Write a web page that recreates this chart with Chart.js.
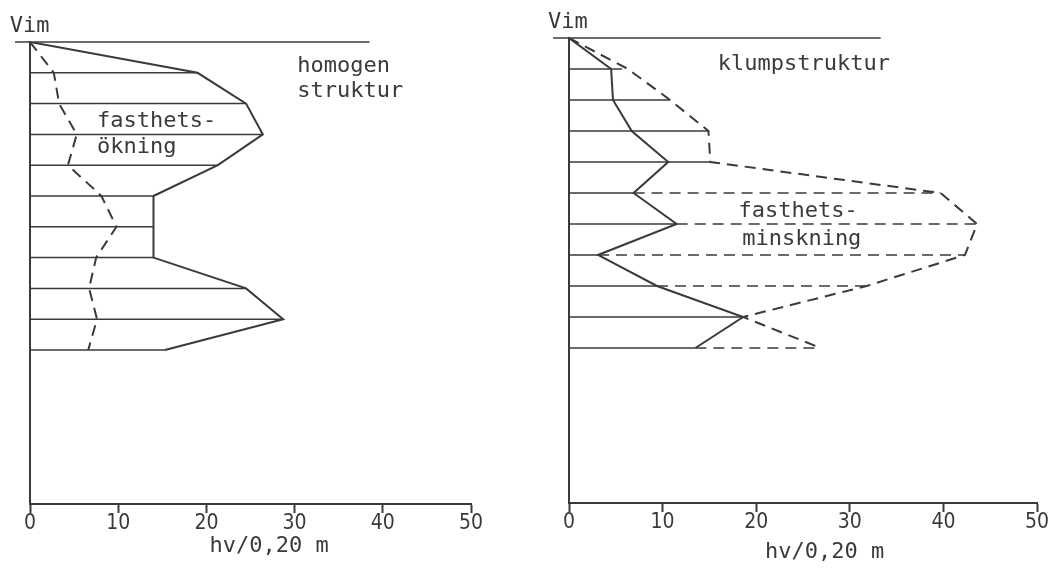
<!DOCTYPE html>
<html><head><meta charset="utf-8">
<script src="https://cdn.jsdelivr.net/npm/chart.js@4.4.0/dist/chart.umd.min.js"></script>
<style>
html,body{margin:0;padding:0;background:#fff;}
#wrap{position:relative;width:1064px;height:572px;overflow:hidden;}
canvas{position:absolute;top:0;}
#c1{left:0}
#c2{left:532px}
</style></head><body>
<div id="wrap"><canvas id="c1" width="532" height="572"></canvas><canvas id="c2" width="532" height="572"></canvas></div>
<script>
// ---- data (depth levels in m, values in hv/0,20 m) ----
const depths = [0, 0.2, 0.4, 0.6, 0.8, 1.0, 1.2, 1.4, 1.6, 1.8, 2.0];
const xTicks = [0, 10, 20, 30, 40, 50];
// left panel: homogen struktur
const leftSolid  = [0, 19.0, 24.5, 26.4, 21.3, 14.0, 14.0, 14.0, 24.5, 28.7, 15.3];
const leftDashed = [0, 2.7, 3.3, 5.3, 4.3, 8.1, 9.8, 7.5, 6.7, 7.6, 6.6];
// right panel: klumpstruktur
const rightSolid  = [0, 4.5, 4.7, 6.7, 10.6, 6.9, 11.5, 3.1, 9.4, 18.6, 13.5];
const rightDashed = [0, 6.3, 10.8, 14.9, 15.1, 39.7, 43.6, 42.3, 31.8, 18.6, 26.9];
const rightBarSolid = [0, 4.5, 10.8, 14.9, 15.1, 6.9, 11.5, 3.1, 9.4, 18.6, 13.5];
const leftTopLine = [-1.7, 38.5];
const rightTopLine = [-1.7, 33.3];
const xTitle = 'hv/0,20 m';
const depthLabel = 'Vim';
const leftNotes = ['homogen', 'struktur', 'fasthets-', 'ökning'];
const rightNotes = ['klumpstruktur', 'fasthets-', 'minskning'];

const INK = '#3a3a3a';
const DASH = [11, 7];
const TXT = '22px "DejaVu Sans Mono", monospace';

function profile(vals, dashed, w) {
  return { data: depths.map((d, i) => ({ x: vals[i], y: d })), borderColor: INK, borderWidth: w,
    borderDash: dashed ? DASH : [], pointRadius: 0, showLine: true, fill: false, tension: 0 };
}
function seg(x0, x1, d, dashed, w, noclip) {
  const o = { data: [{ x: x0, y: d }, { x: x1, y: d }], borderColor: INK, borderWidth: w,
    borderDash: dashed ? DASH : [], pointRadius: 0, showLine: true, fill: false };
  if (noclip) o.clip = false;
  return o;
}

const textPlugin = {
  id: 'textLabels',
  afterDraw(chart, args, opts) {
    const { ctx } = chart; const sx = chart.scales.x, sy = chart.scales.y;
    ctx.save(); ctx.fillStyle = INK; ctx.font = TXT; ctx.textBaseline = 'alphabetic';
    for (const it of opts.items) {
      ctx.textAlign = it.align || 'left';
      ctx.fillText(it.text, sx.getPixelForValue(it.x), sy.getPixelForValue(it.y));
    }
    ctx.restore();
  }
};

function makeChart(id, datasets, items, pad) {
  return new Chart(document.getElementById(id), {
    type: 'scatter',
    data: { datasets },
    options: {
      responsive: false, animation: false, devicePixelRatio: 1,
      layout: { padding: pad },
      plugins: { legend: { display: false }, tooltip: { enabled: false }, textLabels: { items } },
      scales: {
        x: {
          type: 'linear', min: 0, max: 50, position: 'bottom',
          afterBuildTicks: s => { s.ticks = xTicks.map(v => ({ value: v })); },
          ticks: { font: { family: '"DejaVu Sans Condensed", "Liberation Sans Narrow", "DejaVu Sans"', size: 21 },
                   color: INK, padding: -2, maxRotation: 0, autoSkip: false },
          grid: { display: true, drawOnChartArea: false, drawTicks: true, tickLength: 9, tickWidth: 2, tickColor: INK },
          border: { display: true, color: INK, width: 2 },
          afterFit: s => { s.height = 40; }
        },
        y: {
          type: 'linear', min: 0, max: 3, reverse: true,
          ticks: { display: false }, grid: { display: false },
          border: { display: true, color: INK, width: 2 },
          afterFit: s => { s.width = 0; }
        }
      }
    },
    plugins: [textPlugin]
  });
}

// left
const lds = [];
lds.push(seg(leftTopLine[0], leftTopLine[1], 0, false, 1.5, true));
for (let i = 1; i < depths.length; i++) lds.push(seg(0, leftSolid[i], depths[i], false, 1.5));
lds.push(profile(leftSolid, false, 2));
lds.push(profile(leftDashed, true, 2));
makeChart('c1', lds, [
  { text: depthLabel, x: -2.3, y: -0.065 },
  { text: leftNotes[0], x: 30.3, y: 0.195 },
  { text: leftNotes[1], x: 30.3, y: 0.357 },
  { text: leftNotes[2], x: 7.6, y: 0.552 },
  { text: leftNotes[3], x: 7.6, y: 0.721 },
  { text: xTitle, x: 27.1, y: 3.31, align: 'center' }
], { left: 30, right: 61, top: 42, bottom: 28 });

// right
const rds = [];
rds.push(seg(rightTopLine[0], rightTopLine[1], 0, false, 1.5, true));
for (let i = 1; i < depths.length; i++) {
  rds.push(seg(0, rightBarSolid[i], depths[i], false, 1.5));
  if (rightDashed[i] > rightBarSolid[i] + 0.3) rds.push(seg(rightBarSolid[i], rightDashed[i], depths[i], true, 1.5));
}
rds.push(profile(rightSolid, false, 2));
rds.push(profile(rightDashed, true, 2));
makeChart('c2', rds, [
  { text: depthLabel, x: -2.25, y: -0.065 },
  { text: rightNotes[0], x: 15.9, y: 0.205 },
  { text: rightNotes[1], x: 18.1, y: 1.154 },
  { text: rightNotes[2], x: 18.5, y: 1.334 },
  { text: xTitle, x: 27.3, y: 3.355, align: 'center' }
], { left: 37, right: 27, top: 38, bottom: 29 });
</script>
</body></html>
